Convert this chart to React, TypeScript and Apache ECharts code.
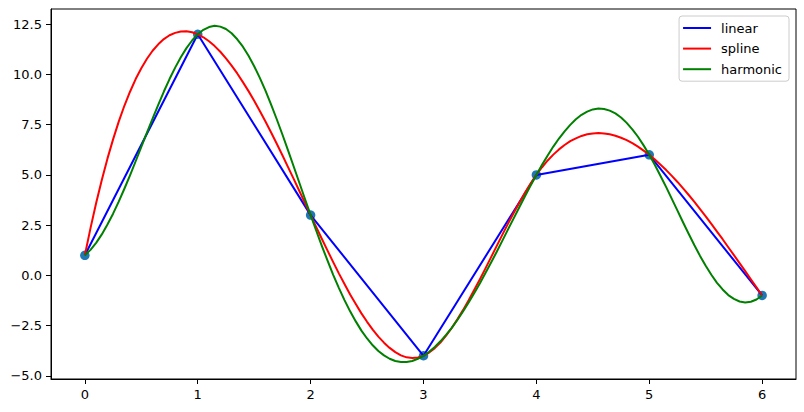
import React, { useEffect, useRef } from 'react';
import * as echarts from 'echarts';

// Known data points
const pointX = [0, 1, 2, 3, 4, 5, 6];
const pointY = [1, 12, 3, -4, 5, 6, -1];

// Sample positions of the smooth curves
const curveX = [
  0.0, 0.05, 0.1, 0.15, 0.2, 0.25, 0.3, 0.35, 0.4, 0.45,
  0.5, 0.55, 0.6, 0.65, 0.7, 0.75, 0.8, 0.85, 0.9, 0.95,
  1.0, 1.05, 1.1, 1.15, 1.2, 1.25, 1.3, 1.35, 1.4, 1.45,
  1.5, 1.55, 1.6, 1.65, 1.7, 1.75, 1.8, 1.85, 1.9, 1.95,
  2.0, 2.05, 2.1, 2.15, 2.2, 2.25, 2.3, 2.35, 2.4, 2.45,
  2.5, 2.55, 2.6, 2.65, 2.7, 2.75, 2.8, 2.85, 2.9, 2.95,
  3.0, 3.05, 3.1, 3.15, 3.2, 3.25, 3.3, 3.35, 3.4, 3.45,
  3.5, 3.55, 3.6, 3.65, 3.7, 3.75, 3.8, 3.85, 3.9, 3.95,
  4.0, 4.05, 4.1, 4.15, 4.2, 4.25, 4.3, 4.35, 4.4, 4.45,
  4.5, 4.55, 4.6, 4.65, 4.7, 4.75, 4.8, 4.85, 4.9, 4.95,
  5.0, 5.05, 5.1, 5.15, 5.2, 5.25, 5.3, 5.35, 5.4, 5.45,
  5.5, 5.55, 5.6, 5.65, 5.7, 5.75, 5.8, 5.85, 5.9, 5.95,
  6.0,
];

const splineY = [
  1.0, 2.35, 3.6, 4.75, 5.81, 6.77, 7.65, 8.44, 9.14, 9.77,
  10.31, 10.78, 11.18, 11.5, 11.76, 11.95, 12.07, 12.14, 12.15, 12.1,
  12.0, 11.85, 11.65, 11.41, 11.13, 10.8, 10.44, 10.05, 9.62, 9.17,
  8.69, 8.18, 7.66, 7.11, 6.55, 5.98, 5.39, 4.8, 4.2, 3.6,
  3.0, 2.4, 1.81, 1.23, 0.66, 0.1, -0.43, -0.95, -1.43, -1.89,
  -2.31, -2.7, -3.05, -3.35, -3.61, -3.82, -3.98, -4.08, -4.11, -4.09,
  -4.0, -3.84, -3.62, -3.34, -3.0, -2.62, -2.19, -1.73, -1.24, -0.72,
  -0.19, 0.36, 0.92, 1.48, 2.04, 2.59, 3.12, 3.63, 4.12, 4.58,
  5.0, 5.38, 5.72, 6.01, 6.27, 6.49, 6.68, 6.82, 6.94, 7.02,
  7.06, 7.08, 7.06, 7.02, 6.95, 6.85, 6.73, 6.58, 6.41, 6.21,
  6.0, 5.77, 5.51, 5.24, 4.95, 4.65, 4.33, 4.0, 3.66, 3.3,
  2.94, 2.56, 2.18, 1.8, 1.4, 1.01, 0.61, 0.21, -0.2, -0.6,
  -1.0,
];

const harmonicY = [
  1.0, 1.27, 1.62, 2.04, 2.53, 3.07, 3.67, 4.31, 4.98, 5.68,
  6.39, 7.1, 7.8, 8.49, 9.15, 9.77, 10.34, 10.86, 11.31, 11.69,
  12.0, 12.22, 12.36, 12.42, 12.38, 12.26, 12.05, 11.75, 11.38, 10.93,
  10.41, 9.83, 9.19, 8.5, 7.77, 7.01, 6.22, 5.42, 4.61, 3.8,
  3.0, 2.22, 1.46, 0.73, 0.03, -0.62, -1.23, -1.79, -2.29, -2.75,
  -3.14, -3.48, -3.76, -3.98, -4.15, -4.26, -4.31, -4.31, -4.26, -4.15,
  -4.0, -3.8, -3.56, -3.28, -2.96, -2.61, -2.22, -1.8, -1.35, -0.88,
  -0.39, 0.13, 0.65, 1.19, 1.74, 2.3, 2.85, 3.4, 3.95, 4.48,
  5.0, 5.5, 5.97, 6.41, 6.81, 7.17, 7.49, 7.77, 7.99, 8.15,
  8.26, 8.3, 8.28, 8.2, 8.06, 7.86, 7.59, 7.27, 6.9, 6.47,
  6.0, 5.49, 4.95, 4.39, 3.81, 3.22, 2.63, 2.06, 1.5, 0.97,
  0.48, 0.03, -0.37, -0.7, -0.98, -1.17, -1.3, -1.35, -1.31, -1.2,
  -1.0,
];

const xTicks = [0, 1, 2, 3, 4, 5, 6];
const yTicks = [-5, -2.5, 0, 2.5, 5, 7.5, 10, 12.5];
const seriesNames = ['linear', 'spline', 'harmonic'];

const FONT = 'DejaVu Sans';

export default function App() {
  const ref = useRef<HTMLDivElement>(null);

  useEffect(() => {
    document.body.style.margin = '0';
    if (!ref.current) return;
    const chart = echarts.init(ref.current, undefined, { renderer: 'svg' });

    const pairs = (xs: number[], ys: number[]) => xs.map((x, i) => [x, ys[i]]);

    const lineSeries = (name: string, color: string, xs: number[], ys: number[]) => ({
      name,
      type: 'line',
      data: pairs(xs, ys),
      smooth: false,
      showSymbol: false,
      symbol: 'none',
      silent: true,
      itemStyle: { color },
      lineStyle: { color, width: 2, join: 'round' },
      z: 3,
    });

    chart.setOption({
      animation: false,
      backgroundColor: '#ffffff',
      grid: {
        left: 51,
        right: 8,
        top: 9,
        bottom: 33,
        show: true,
        borderColor: '#000000',
        borderWidth: 1,
        backgroundColor: 'transparent',
      },
      xAxis: {
        type: 'value',
        min: -0.3,
        max: 6.3,
        splitLine: { show: false },
        axisLine: { show: true, onZero: false, lineStyle: { color: '#000000', width: 1 } },
        axisTick: { show: true, length: 5, customValues: xTicks, lineStyle: { color: '#000000', width: 1 } },
        axisLabel: {
          customValues: xTicks,
          color: '#000000',
          fontSize: 13,
          fontFamily: FONT,
          margin: 9,
          formatter: (v: number) => String(v),
        },
      },
      yAxis: {
        type: 'value',
        min: -5.157,
        max: 13.257,
        splitLine: { show: false },
        axisLine: { show: true, onZero: false, lineStyle: { color: '#000000', width: 1 } },
        axisTick: { show: true, length: 5, customValues: yTicks, lineStyle: { color: '#000000', width: 1 } },
        axisLabel: {
          customValues: yTicks,
          color: '#000000',
          fontSize: 13,
          fontFamily: FONT,
          margin: 9,
          formatter: (v: number) => v.toFixed(1).replace('-', '\u2212'),
        },
      },
      legend: {
        data: seriesNames,
        orient: 'vertical',
        right: 15,
        top: 16,
        icon: 'rect',
        itemWidth: 28,
        itemHeight: 2,
        itemGap: 6.6,
        padding: [5, 7, 5, 4],
        backgroundColor: 'rgba(255,255,255,0.8)',
        borderColor: '#cccccc',
        borderWidth: 1,
        borderRadius: 3,
        selectedMode: false,
        textStyle: { fontSize: 13, color: '#000000', fontFamily: FONT, lineHeight: 14, padding: [0, 0, 0, 5] },
      },
      series: [
        {
          name: 'points',
          type: 'scatter',
          data: pairs(pointX, pointY),
          symbolSize: 9.5,
          silent: true,
          itemStyle: { color: '#1f77b4', opacity: 1 },
          z: 2,
        },
        lineSeries(seriesNames[0], '#0000ff', pointX, pointY),
        lineSeries(seriesNames[1], '#ff0000', curveX, splineY),
        lineSeries(seriesNames[2], '#008000', curveX, harmonicY),
      ],
    });

    return () => chart.dispose();
  }, []);

  return <div ref={ref} style={{ width: 804, height: 412 }} />;
}
